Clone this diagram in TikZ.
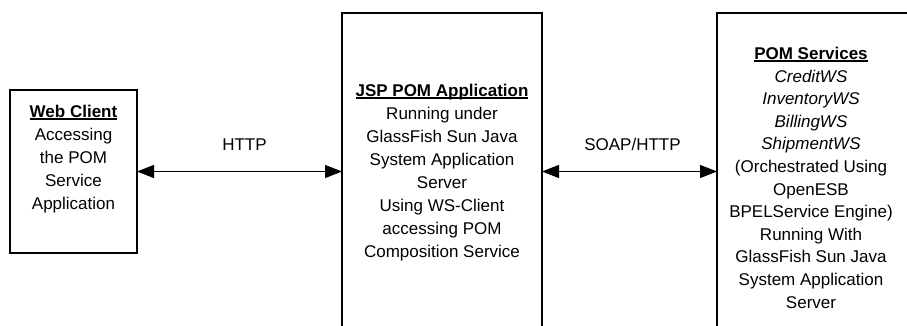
\documentclass[tikz,border=0pt]{standalone}
\usepackage{fontspec}
\setmainfont{Liberation Sans}
\usetikzlibrary{positioning,arrows.meta}

% bold heading with a rule just under the baseline
\newcommand{\hdr}[1]{\setbox0\hbox{\bfseries #1}\rlap{\rule[-2pt]{\wd0}{1.3pt}}\box0}

\begin{document}
\begin{tikzpicture}[x=1pt, y=-1pt,
    box/.style={draw, line width=2.2pt, inner sep=0pt, outer sep=0pt},
    boxtext/.style={align=center, inner sep=0pt, font=\fontsize{17}{23}\selectfont},
    link/.style={line width=1.2pt, {Triangle[length=17pt,width=13pt]}-{Triangle[length=17pt,width=13pt]}},
    linklabel/.style={font=\fontsize{17}{23}\selectfont, inner sep=0pt, anchor=base}]

    \useasboundingbox (0,0) rectangle (907,325);

    % the three boxes (the two on the right run off the page)
    \node[box, minimum width=127pt, minimum height=163pt] (web) at (73.5,171.5) {};
    \node[box, minimum width=200pt, minimum height=317pt] (jsp) at (442,171.5) {};
    \node[box, minimum width=193pt, minimum height=317pt] (pom) at (813.5,171.5) {};

    % what is written in them
    \node[boxtext, below=15pt of web.north] (webtext)
        {\hdr{Web Client}\\Accessing\\the POM\\Service\\Application};
    \node[boxtext, below=71pt of jsp.north] (jsptext)
        {\hdr{JSP POM Application}\\Running under\\GlassFish Sun Java\\System Application\\Server\\Using WS-Client\\accessing POM\\Composition Service};
    \node[boxtext, font=\fontsize{17}{22.6}\selectfont, below=34pt of pom.north, xshift=-2.5pt] (pomtext)
        {\hdr{POM Services}\\\textit{CreditWS}\\\textit{InventoryWS}\\\textit{BillingWS}\\\textit{ShipmentWS}\\(Orchestrated Using\\OpenESB\\BPELService Engine)\\Running With\\GlassFish Sun Java\\System Application\\Server};

    % protocols between them
    \draw[link] (web.east) -- node[linklabel, midway, yshift=21pt, xshift=5pt] (http) {HTTP} (jsp.west);
    \draw[link] (jsp.east) -- node[linklabel, midway, yshift=21pt, xshift=3pt] (soap) {SOAP/HTTP} (pom.west);

\end{tikzpicture}
\end{document}
